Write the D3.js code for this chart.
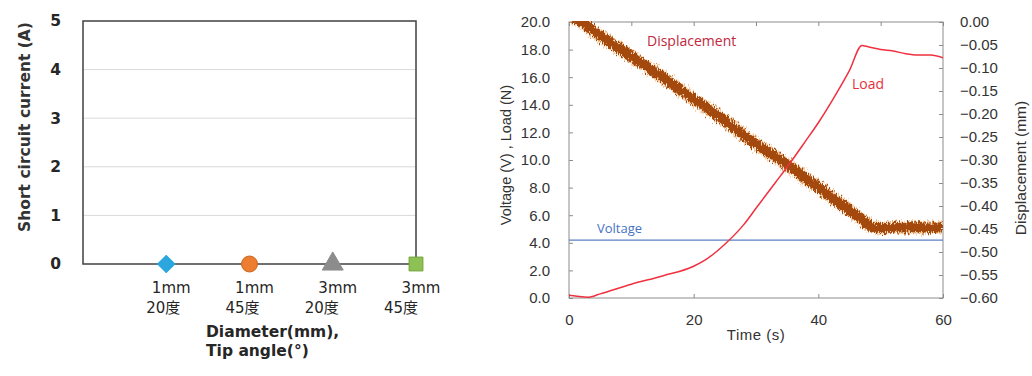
<!DOCTYPE html>
<html>
<head>
<meta charset="utf-8">
<script src="https://cdn.jsdelivr.net/npm/d3@7"></script>
<style>
  html, body { margin: 0; padding: 0; background: #fff; }
  svg { display: block; }
</style>
</head>
<body>
<svg id="chart" width="1032" height="376"></svg>
<script>
// ---------- Left chart data ----------
const diameterLabels = ["1mm", "1mm", "3mm", "3mm"];
const angleLabels = ["20度", "45度", "20度", "45度"];
const currentValues = [0, 0, 0, 0];
const currentTicks = [0, 1, 2, 3, 4, 5];

// ---------- Right chart data ----------
const timeTicks = [0, 20, 40, 60];
const loadTicks = [0, 2, 4, 6, 8, 10, 12, 14, 16, 18, 20];
const dispTicks = [0, -0.05, -0.10, -0.15, -0.20, -0.25, -0.30, -0.35, -0.40, -0.45, -0.50, -0.55, -0.60];
const voltageSeries = [[0, 4.2], [60, 4.2]];
const loadSeries = [
  [0, 0.2], [1, 0.15], [3, 0.05], [5, 0.3], [10, 1.0], [15, 1.6], [20, 2.3], [22, 2.8],
  [25, 3.9], [28, 5.3], [30, 6.5], [33, 8.3], [35.5, 9.8], [38, 11.4], [40, 12.7],
  [43, 14.9], [45, 16.5], [47, 18.3], [48, 18.2], [50, 18.0], [52, 17.9], [54, 17.7],
  [56, 17.6], [58, 17.6], [60, 17.4]
];
const dispSeries = [
  [0, 0.02], [5, -0.03], [10, -0.075], [15, -0.12], [20, -0.168], [25, -0.215],
  [30, -0.265], [35, -0.31], [40, -0.36], [45, -0.41], [47, -0.43], [48.5, -0.445],
  [50, -0.448], [55, -0.446], [60, -0.447]
];

const svg = d3.select("#chart");

// ================= LEFT CHART =================
const xL = d3.scaleLinear().domain([0, 4]).range([83, 416]);
const yL = d3.scaleLinear().domain([0, 5]).range([264, 21]);
const gL = svg.append("g");

gL.selectAll("line.grid").data(currentTicks.filter(d => d > 0 && d < 5)).join("line")
  .attr("x1", xL(0)).attr("x2", xL(4))
  .attr("y1", d => yL(d)).attr("y2", d => yL(d))
  .attr("stroke", "#d9d9d9").attr("stroke-width", 1);

gL.append("rect").attr("x", xL(0)).attr("y", yL(5))
  .attr("width", xL(4) - xL(0)).attr("height", yL(0) - yL(5))
  .attr("fill", "none").attr("stroke", "#404040").attr("stroke-width", 1.5);

const yAxisL = gL.append("g").attr("transform", `translate(${xL(0)},0)`)
  .call(d3.axisLeft(yL).tickValues(currentTicks).tickSize(0).tickPadding(22).tickFormat(d3.format("d")));
yAxisL.select(".domain").remove();
yAxisL.selectAll("text").attr("font-family", "DejaVu Sans").attr("font-weight", "bold")
  .attr("font-size", 15.5).attr("fill", "#262626");

gL.append("text")
  .attr("transform", `translate(25,127) rotate(-90)`)
  .attr("text-anchor", "middle").attr("dominant-baseline", "middle")
  .attr("font-family", "DejaVu Sans").attr("font-weight", "bold").attr("font-size", 15.5)
  .attr("fill", "#333").text("Short circuit current (A)");

const catFont = "'DejaVu Sans', 'Noto Sans CJK JP'";
gL.selectAll("text.cat1").data(diameterLabels).join("text")
  .attr("x", (d, i) => xL(i + 1) + 5).attr("y", 293)
  .attr("text-anchor", "middle").attr("font-family", catFont).attr("font-size", 15)
  .attr("fill", "#262626").text(d => d);
gL.selectAll("text.cat2").data(angleLabels).join("text")
  .attr("x", (d, i) => xL(i + 1) - 3 - i * 4).attr("y", 313)
  .attr("text-anchor", "middle").attr("font-family", catFont).attr("font-size", 15)
  .attr("fill", "#262626").text(d => d);

gL.append("text").attr("x", 206).attr("y", 337)
  .attr("font-family", "DejaVu Sans").attr("font-weight", "bold").attr("font-size", 15.5)
  .attr("fill", "#262626").text("Diameter(mm),");
gL.append("text").attr("x", 206).attr("y", 356)
  .attr("font-family", "DejaVu Sans").attr("font-weight", "bold").attr("font-size", 15.5)
  .attr("fill", "#262626").text("Tip angle(°)");

const markerStyles = [
  { type: d3.symbolSquare, size: 150, rot: 45, fill: "#2ba6de", stroke: "#2ba6de" },
  { type: d3.symbolCircle, size: 200, rot: 0, fill: "#ed7d31", stroke: "#c8661f" },
  { type: d3.symbolTriangle, size: 190, rot: 0, fill: "#8c8c8c", stroke: "#8c8c8c" },
  { type: d3.symbolSquare, size: 190, rot: 0, fill: "#8dc153", stroke: "#6fa23a" }
];
gL.selectAll("path.mk").data(currentValues).join("path")
  .attr("transform", (d, i) => `translate(${xL(i + 1)},${yL(d)}) rotate(${markerStyles[i].rot})`)
  .attr("d", (d, i) => d3.symbol().type(markerStyles[i].type).size(markerStyles[i].size)())
  .attr("fill", (d, i) => markerStyles[i].fill)
  .attr("stroke", (d, i) => markerStyles[i].stroke).attr("stroke-width", 1);

// ================= RIGHT CHART =================
const xR = d3.scaleLinear().domain([0, 60]).range([569, 943]);
const yR = d3.scaleLinear().domain([0, 20]).range([298, 22]);
const yD = d3.scaleLinear().domain([-0.6, 0]).range([298, 22]);
const gR = svg.append("g");

const defs = svg.append("defs");
defs.append("clipPath").attr("id", "plotclip").append("rect")
  .attr("x", xR(0)).attr("y", yR(20) - 1).attr("width", xR(60) - xR(0)).attr("height", yR(0) - yR(20) + 2);
const flt = defs.append("filter").attr("id", "rough")
  .attr("x", "-5%").attr("y", "-10%").attr("width", "110%").attr("height", "120%");
flt.append("feTurbulence").attr("type", "fractalNoise").attr("baseFrequency", "1.2 0.3")
  .attr("numOctaves", 2).attr("seed", 3).attr("result", "noise");
flt.append("feDisplacementMap").attr("in", "SourceGraphic").attr("in2", "noise")
  .attr("scale", 10).attr("xChannelSelector", "R").attr("yChannelSelector", "G");

const axisFont = "'Liberation Sans', Arial, sans-serif";

gR.append("rect").attr("x", xR(0)).attr("y", yR(20))
  .attr("width", xR(60) - xR(0)).attr("height", yR(0) - yR(20))
  .attr("fill", "none").attr("stroke", "#8c8c8c").attr("stroke-width", 1);

function styleAxis(g) {
  g.select(".domain").remove();
  g.selectAll(".tick line").attr("stroke", "#8c8c8c");
  g.selectAll("text").attr("font-family", axisFont).attr("font-size", 15).attr("fill", "#333");
}

const axL = gR.append("g").attr("transform", `translate(${xR(0)},0)`)
  .call(d3.axisLeft(yR).tickValues(loadTicks).tickSize(-4).tickPadding(19).tickFormat(d3.format(".1f")));
styleAxis(axL);

const axRt = gR.append("g").attr("transform", `translate(${xR(60)},0)`)
  .call(d3.axisRight(yD).tickValues(dispTicks).tickSize(-4).tickPadding(17).tickFormat(d3.format(".2f")));
styleAxis(axRt);
axRt.selectAll("text").text(d => d === 0 ? "0.00" : d3.format(".2f")(d));

const axB = gR.append("g").attr("transform", `translate(0,${yR(0)})`)
  .call(d3.axisBottom(xR).tickValues(timeTicks).tickSize(-4).tickPadding(16).tickFormat(d3.format("d")));
styleAxis(axB);

const axT = gR.append("g").attr("transform", `translate(0,${yR(20)})`)
  .call(d3.axisTop(xR).ticks(6).tickSize(-4).tickFormat(""));
styleAxis(axT);

gR.append("text").attr("x", (xR(0) + xR(60)) / 2).attr("y", 340)
  .attr("text-anchor", "middle").attr("font-family", axisFont).attr("font-size", 15)
  .attr("letter-spacing", 0.5).attr("fill", "#333").text("Time (s)");
gR.append("text").attr("transform", "translate(507,155) rotate(-90)")
  .attr("text-anchor", "middle").attr("dominant-baseline", "middle")
  .attr("font-family", axisFont).attr("font-size", 14.5).attr("fill", "#333")
  .text("Voltage (V) , Load (N)");
gR.append("text").attr("transform", "translate(1022,168) rotate(-90)")
  .attr("text-anchor", "middle").attr("dominant-baseline", "middle")
  .attr("font-family", axisFont).attr("font-size", 15.5).attr("fill", "#333")
  .text("Displacement (mm)");

const plot = gR.append("g").attr("clip-path", "url(#plotclip)");

plot.append("path").datum(voltageSeries)
  .attr("d", d3.line().x(d => xR(d[0])).y(d => yR(d[1])))
  .attr("fill", "none").attr("stroke", "#5a7fc6").attr("stroke-width", 1.3);

const dispLine = d3.line().x(d => xR(d[0])).y(d => yD(d[1])).curve(d3.curveMonotoneX);
plot.append("path").datum(dispSeries).attr("d", dispLine)
  .attr("fill", "none").attr("stroke", "#f0a050").attr("stroke-width", 13)
  .attr("stroke-opacity", 0.5).attr("filter", "url(#rough)");
plot.append("path").datum(dispSeries).attr("d", dispLine)
  .attr("fill", "none").attr("stroke", "#a3480c").attr("stroke-width", 10)
  .attr("filter", "url(#rough)");

plot.append("path").datum(loadSeries)
  .attr("d", d3.line().x(d => xR(d[0])).y(d => yR(d[1])).curve(d3.curveMonotoneX))
  .attr("fill", "none").attr("stroke", "#f0303f").attr("stroke-width", 1.5);

const lblFont = "'Open Sans', sans-serif";
gR.append("text").attr("x", 647).attr("y", 46).attr("font-family", lblFont).attr("font-size", 14)
  .attr("fill", "#c0283c").text("Displacement");
gR.append("text").attr("x", 852).attr("y", 89).attr("font-family", lblFont).attr("font-size", 14)
  .attr("fill", "#e8303c").text("Load");
gR.append("text").attr("x", 597).attr("y", 233).attr("font-family", lblFont).attr("font-size", 13)
  .attr("fill", "#4472c4").text("Voltage");
</script>
</body>
</html>
